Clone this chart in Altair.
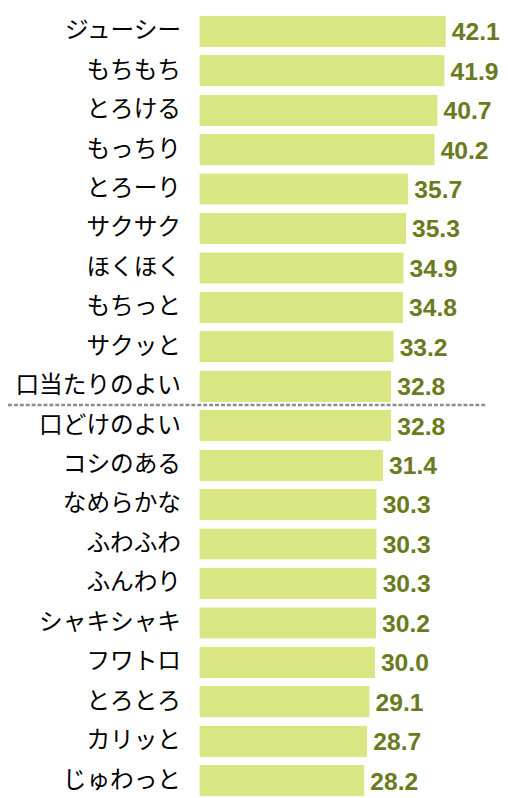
import altair as alt
import pandas as pd

categories = ["ジューシー", "もちもち", "とろける", "もっちり", "とろーり", "サクサク", "ほくほく",
              "もちっと", "サクッと", "口当たりのよい", "口どけのよい", "コシのある", "なめらかな",
              "ふわふわ", "ふんわり", "シャキシャキ", "フワトロ", "とろとろ", "カリッと", "じゅわっと"]
values = [42.1, 41.9, 40.7, 40.2, 35.7, 35.3, 34.9, 34.8, 33.2, 32.8,
          32.8, 31.4, 30.3, 30.3, 30.3, 30.2, 30.0, 29.1, 28.7, 28.2]
divider_before = ["口どけのよい"]

df = pd.DataFrame({"cat": categories, "val": values})
df["label"] = df["val"].map(lambda v: f"{v:.1f}")
div_df = pd.DataFrame({"cat": divider_before})

yscale = alt.Scale(domain=categories, paddingInner=0.2, paddingOuter=0.05)
xscale = alt.Scale(domain=[0, 50])

y_axis = alt.Axis(title=None, ticks=False, domain=False, grid=False, labelPadding=19,
                  labelFont="Noto Sans CJK JP", labelFontSize=24, labelColor="#000000",
                  labelLimit=300)

bars = alt.Chart(df).mark_bar(color="#d9e683", cornerRadius=1).encode(
    y=alt.Y("cat:N", scale=yscale, sort=None, axis=y_axis),
    x=alt.X("val:Q", scale=xscale, axis=None),
)

text = alt.Chart(df).mark_text(align="left", baseline="middle", dx=6, dy=1,
                               font="Liberation Sans", fontSize=25, fontWeight="bold",
                               color="#6a7a1c").encode(
    y=alt.Y("cat:N", scale=yscale, sort=None, axis=y_axis),
    x=alt.X("val:Q", scale=xscale, axis=None),
    text="label:N",
)

rule = alt.Chart(div_df).mark_rule(color="#8c8c8c", strokeWidth=2.5, strokeDash=[4, 2],
                                   yOffset=-5).encode(
    y=alt.Y("cat:N", scale=yscale, sort=None, bandPosition=0, axis=y_axis),
    x=alt.value(-194),
    x2=alt.value(291),
)

chart = alt.layer(rule, bars, text).properties(
    width=297, height=796,
    background="#ffffff",
    padding={"left": 194, "top": 0, "right": 8, "bottom": 0},
    autosize=alt.AutoSizeParams(type="none"),
).configure_view(stroke=None, strokeWidth=0)

chart.save("out.html", embed_options={"renderer": "svg", "actions": False})
